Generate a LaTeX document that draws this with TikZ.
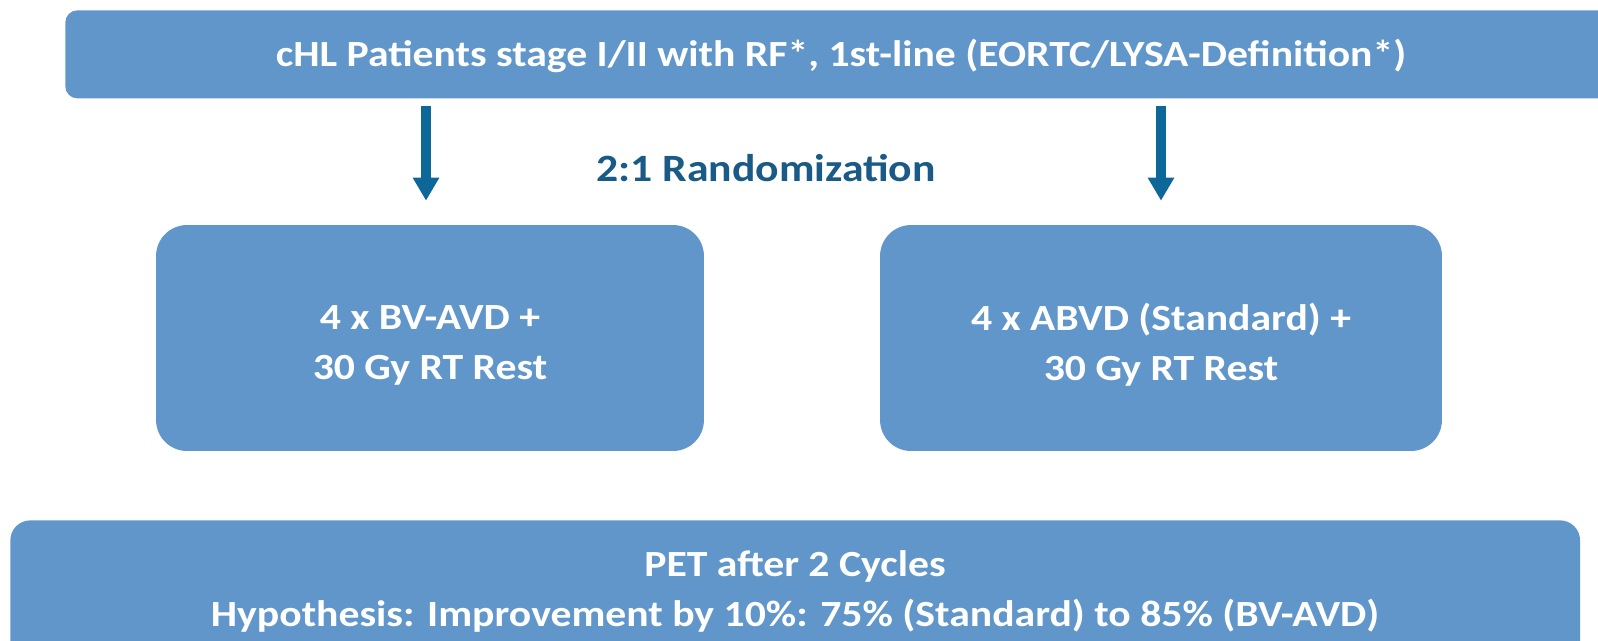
\documentclass[tikz,border=0pt]{standalone}
\usepackage{fontspec}
\setmainfont{Carlito}[FakeStretch=1.13]
\usetikzlibrary{arrows.meta}
\definecolor{boxblue}{HTML}{6096C9}
\definecolor{arrblue}{HTML}{0D6899}
\definecolor{txtblue}{HTML}{1A5A87}
\tikzset{
  px/.style={x=0.02cm,y=-0.02cm},
  topbox/.style={fill=boxblue, draw=none, rounded corners=0.24cm, inner sep=0pt},
  armbox/.style={fill=boxblue, draw=none, rounded corners=0.62cm, inner sep=0pt},
  bottombox/.style={fill=boxblue, draw=none, rounded corners=0.4cm, inner sep=0pt},
  wtext/.style={text=white, align=center, inner sep=0pt, font=\fontsize{21}{28.5}\selectfont\bfseries},
  randtext/.style={text=txtblue, inner sep=0pt, font=\fontsize{22}{26}\selectfont\bfseries},
  arr/.style={draw=arrblue, line width=0.2cm, -{Triangle[length=0.46cm,width=0.5cm]}},
}
\begin{document}
\begin{tikzpicture}[px]
\useasboundingbox (0,0) rectangle (1598,640);
\clip (0,0) rectangle (1598,640);
% top box (extends past right edge)
\node[topbox, minimum width=31.3cm, minimum height=1.76cm, anchor=north west] (top) at (65,10) {};
\node[wtext] (toptext) at (841,56) {cHL Patients stage I/II with RF*, 1st-line (EORTC/LYSA-Definition*)};
% arm boxes
\node[armbox, minimum width=10.96cm, minimum height=4.52cm] (lb) at (430,338) {};
\node[wtext] (lbtext) at (430,345) {4 x BV-AVD +\\30 Gy RT Rest};
\node[armbox, minimum width=11.24cm, minimum height=4.52cm] (rb) at (1161,338) {};
\node[wtext] (rbtext) at (1161,345) {4 x ABVD (Standard) +\\30 Gy RT Rest};
% randomization label
\node[randtext] (rand) at (766,168) {2:1 Randomization};
% arrows
\draw[arr, shorten <=0.14cm, shorten >=0.48cm] ([xshift=-0.08cm]top.south -| lb.north) -- ([xshift=-0.08cm]lb.north);
\draw[arr, shorten <=0.14cm, shorten >=0.48cm] (top.south -| rb.north) -- (rb.north);
% bottom box (extends past bottom edge)
\node[bottombox, minimum width=31.4cm, minimum height=3.2cm, anchor=north west] (bot) at (10,520) {};
\node[wtext] (bottext) at (795,591) {PET after 2 Cycles\\Hypothesis: Improvement by 10\%: 75\% (Standard) to 85\% (BV-AVD)};
\end{tikzpicture}
\end{document}
